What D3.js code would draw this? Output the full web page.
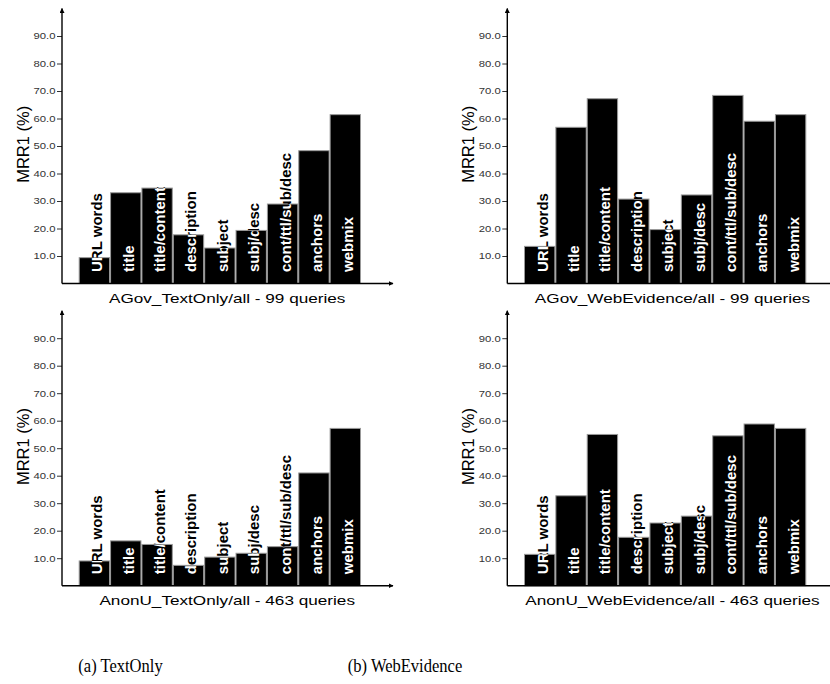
<!DOCTYPE html>
<html>
<head>
<meta charset="utf-8">
<script src="https://cdn.jsdelivr.net/npm/d3@7"></script>
<style>
  body { margin: 0; background: #fff; }
  svg { display: block; }
</style>
</head>
<body>
<div id="chart"></div>
<script>
// Data
const categories = ['URL words', 'title', 'title/content', 'description', 'subject', 'subj/desc', 'cont/ttl/sub/desc', 'anchors', 'webmix'];
const agovTextOnly = [9.4, 33.0, 34.7, 17.7, 12.9, 19.3, 28.9, 48.3, 61.4];
const agovWebEvidence = [13.5, 56.8, 67.2, 30.7, 19.6, 32.2, 68.4, 59.0, 61.4];
const anonTextOnly = [9.0, 16.3, 15.0, 7.4, 10.4, 11.8, 14.2, 41.0, 57.2];
const anonWebEvidence = [11.4, 32.7, 55.0, 17.6, 22.8, 25.3, 54.5, 58.8, 57.2];
const panelTitles = ['AGov_TextOnly/all - 99 queries', 'AGov_WebEvidence/all - 99 queries',
  'AnonU_TextOnly/all - 463 queries', 'AnonU_WebEvidence/all - 463 queries'];
const tickValues = [10, 20, 30, 40, 50, 60, 70, 80, 90];
const tickLabels = ['10.0', '20.0', '30.0', '40.0', '50.0', '60.0', '70.0', '80.0', '90.0'];
const captions = ['(a) TextOnly', '(b) WebEvidence'];

const width = 830;
const height = 684;

const svg = d3.select('#chart')
  .append('svg')
  .attr('width', width)
  .attr('height', height);

// arrow heads for the axes
svg.append('defs')
  .append('marker')
  .attr('id', 'arrow')
  .attr('viewBox', '0 0 10 10')
  .attr('refX', 9)
  .attr('refY', 5)
  .attr('markerWidth', 5)
  .attr('markerHeight', 5)
  .attr('markerUnits', 'userSpaceOnUse')
  .attr('orient', 'auto')
  .append('path')
  .attr('d', 'M0,0L10,5L0,10Z')
  .attr('fill', '#000');

const plotH = 275; // axis origin to arrow tip
const plotW = 331;

const y = d3.scaleLinear([0, 100], [plotH, 0]);
const x = d3.scaleBand(categories, [16.7, 299]).padding(0);

const panels = [
  { values: agovTextOnly, ox: 62, oy: 283.5 },
  { values: agovWebEvidence, ox: 507.3, oy: 283.5 },
  { values: anonTextOnly, ox: 62, oy: 585.7 },
  { values: anonWebEvidence, ox: 507.3, oy: 585.7 },
];

function drawPanel(p, i) {
  const g = svg.append('g')
    .attr('transform', `translate(${p.ox}, ${p.oy - plotH})`);

  // y ticks
  const yAxis = d3.axisLeft(y)
    .tickValues(tickValues)
    .tickFormat((d, k) => tickLabels[k])
    .tickSize(5)
    .tickPadding(1.5);

  const ya = g.append('g').call(yAxis);
  ya.select('.domain').remove();
  ya.selectAll('line').attr('stroke', '#333');
  ya.selectAll('text')
    .attr('fill', '#333')
    .style('font-family', 'Liberation Sans, Arial, sans-serif')
    .style('font-size', '9px')
    .attr('textLength', 22)
    .attr('lengthAdjust', 'spacingAndGlyphs');

  // bars
  const data = categories.map((c, k) => ({ cat: c, v: p.values[k], id: `clip-${i}-${k}` }));

  g.append('g')
    .selectAll('rect')
    .data(data)
    .join('rect')
    .attr('x', (d) => x(d.cat) + 0.5)
    .attr('y', (d) => y(d.v))
    .attr('width', x.bandwidth() - 1)
    .attr('height', (d) => y(0) - y(d.v))
    .attr('fill', '#000')
    .attr('stroke', '#999')
    .attr('stroke-width', 1);

  g.append('g')
    .selectAll('clipPath')
    .data(data)
    .join('clipPath')
    .attr('id', (d) => d.id)
    .append('rect')
    .attr('x', (d) => x(d.cat))
    .attr('y', (d) => y(d.v))
    .attr('width', x.bandwidth())
    .attr('height', (d) => y(0) - y(d.v));

  const labelPos = (d) => `translate(${x(d.cat) + x.bandwidth() / 2 + 8}, ${y(0) - 11.5}) rotate(-90)`;

  // black label where it sticks out of the bar, white inside the bar
  ['#000', '#fff'].forEach((col) => {
    g.append('g')
      .selectAll('g')
      .data(data)
      .join('g')
      .attr('clip-path', (d) => (col === '#fff' ? `url(#${d.id})` : null))
      .append('text')
      .attr('transform', labelPos)
      .attr('fill', col)
      .style('font-family', 'Liberation Sans, Arial, sans-serif')
      .style('font-weight', 'bold')
      .style('font-size', '15px')
      .text((d) => d.cat);
  });

  // axes with arrows
  g.append('line')
    .attr('x1', 0).attr('y1', y(0))
    .attr('x2', 0).attr('y2', 0)
    .attr('stroke', '#000')
    .attr('stroke-width', 1.4)
    .attr('marker-end', 'url(#arrow)');

  g.append('line')
    .attr('x1', 0).attr('y1', y(0))
    .attr('x2', plotW).attr('y2', y(0))
    .attr('stroke', '#000')
    .attr('stroke-width', 1.4)
    .attr('marker-end', 'url(#arrow)');

  // y-axis name
  g.append('text')
    .attr('text-anchor', 'middle')
    .attr('transform', `translate(-33.5, ${y(50.6)}) rotate(-90)`)
    .style('font-family', 'Liberation Sans, Arial, sans-serif')
    .style('font-size', '16.5px')
    .text('MRR1 (%)');

  // x-axis name (stretched horizontally like the original)
  g.append('text')
    .attr('text-anchor', 'middle')
    .attr('transform', `translate(165.2, ${y(0) + 19.5}) scale(1.32, 1)`)
    .style('font-family', 'Liberation Sans, Arial, sans-serif')
    .style('font-size', '13px')
    .text(panelTitles[i]);
}

panels.forEach(drawPanel);

// sub-figure captions (tall, narrow serif as in the original)
svg.append('g')
  .selectAll('text')
  .data(captions)
  .join('text')
  .attr('transform', (d, k) => `translate(${[120.5, 405][k]}, 672) scale(0.87, 1)`)
  .attr('text-anchor', 'middle')
  .style('font-family', 'Liberation Serif, Times New Roman, serif')
  .style('font-size', '19px')
  .text((d) => d);
</script>
</body>
</html>
